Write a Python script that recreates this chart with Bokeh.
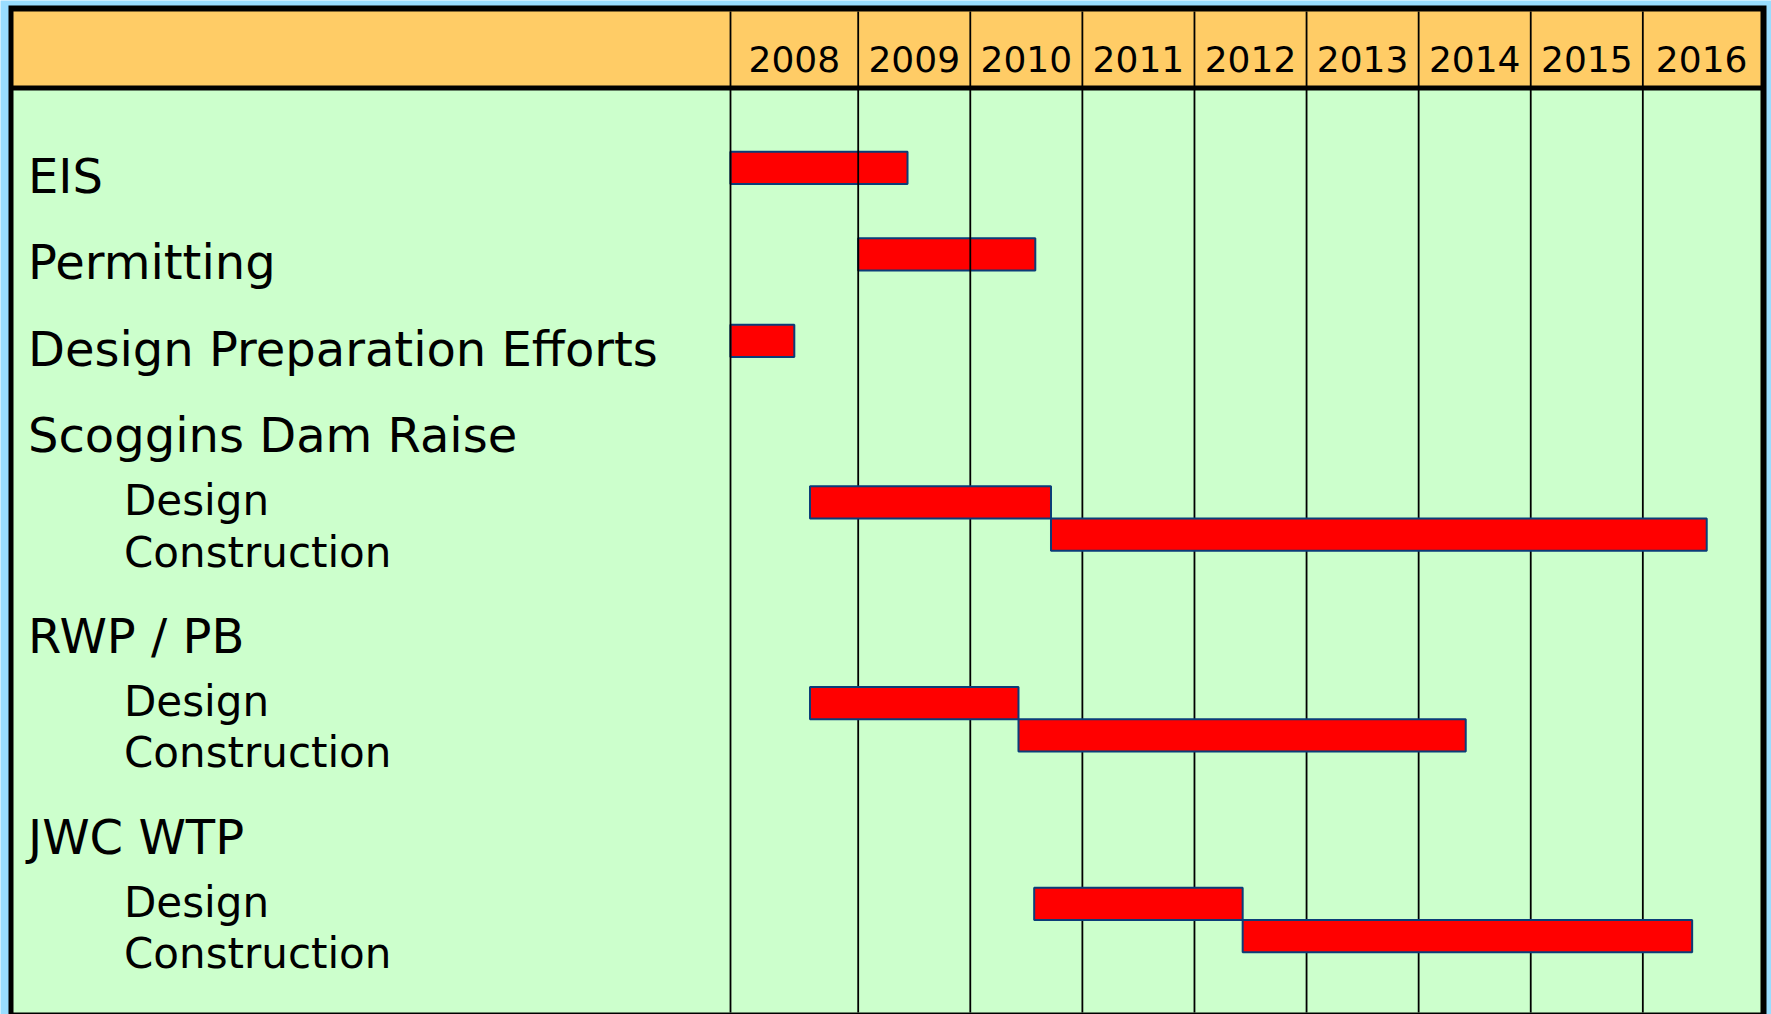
from bokeh.plotting import figure
from bokeh.models import Range1d, ColumnDataSource
from bokeh.core.properties import value
from bokeh.embed import file_html
from bokeh.resources import INLINE

# ---------------- data ----------------
tasks = ["EIS", "Permitting", "Design Preparation Efforts",
         "Scoggins Dam Raise", "Design", "Construction",
         "RWP / PB", "Design", "Construction",
         "JWC WTP", "Design", "Construction"]
levels = [0, 0, 0, 0, 1, 1, 0, 1, 1, 0, 1, 1]
starts = [2007.86, 2009.00, 2007.86, None, 2008.57, 2010.72, None, 2008.57, 2010.43, None, 2010.57, 2012.43]
ends = [2009.44, 2010.58, 2008.43, None, 2010.72, 2016.57, None, 2010.43, 2014.42, None, 2012.43, 2016.44]
years = ["2008", "2009", "2010", "2011", "2012", "2013", "2014", "2015", "2016"]

# ---------------- layout ----------------
W, H = 1771, 1014
PX_PER_YEAR = 112.09
def X(px):
    # converts a pixel layout position to the year scale
    return 2009 + (px - 857.7) / PX_PER_YEAR

FONT = value("DejaVu Sans")
BAR_H = 32.3
TEXT_SHIFT = 0.38  # baseline correction, fraction of font size

# label baselines
baselines = []
y = 193.3
for i, lv in enumerate(levels):
    if i > 0:
        prev = levels[i - 1]
        if lv == 0:
            y += 86.5 if prev == 0 else 86.0
        else:
            y += 63.3 if prev == 0 else 51.5
    baselines.append(y)

# bar centres
centres = []
k = 0
group_base = None
for i, lv in enumerate(levels):
    if lv == 0:
        centres.append(baselines[i] - 26)
        group_base = baselines[i]
        k = 0
    else:
        centres.append(group_base + 49 + k * BAR_H)
        k += 1

p = figure(width=W, height=H,
           x_range=Range1d(X(0), X(W)), y_range=Range1d(H, 0),
           output_backend="svg", toolbar_location=None,
           x_axis_location=None, y_axis_location=None,
           min_border=0, background_fill_color="#99DDFF",
           border_fill_color="#99DDFF", outline_line_color=None)
p.xgrid.visible = False
p.ygrid.visible = False

# frame, header and body panels
p.quad(left=X(8), right=X(1766), top=5, bottom=H, fill_color="black", line_color=None)
p.quad(left=X(13), right=X(1760), top=11, bottom=85, fill_color="#FFCC66", line_color=None)
p.quad(left=X(13), right=X(1760), top=90, bottom=1012, fill_color="#CCFFCC", line_color=None)

def bar_source(level):
    idx = [i for i in range(len(tasks)) if levels[i] == level and starts[i] is not None]
    return ColumnDataSource(dict(
        left=[starts[i] for i in idx], right=[ends[i] for i in idx],
        top=[centres[i] - BAR_H / 2 for i in idx],
        bottom=[centres[i] + BAR_H / 2 for i in idx]))

BAR_STYLE = dict(fill_color="#FF0000", line_color="#0B3D78", line_width=2)
p.quad(left="left", right="right", top="top", bottom="bottom", source=bar_source(0), **BAR_STYLE)

# column dividers
edges = [X(730)] + [int(yr) for yr in years[1:]] + [X(1760)]
p.segment(x0=edges[:-1], y0=11, x1=edges[:-1], y1=1012, line_color="black", line_width=1.8)

p.quad(left="left", right="right", top="top", bottom="bottom", source=bar_source(1), **BAR_STYLE)

# header year labels
centers = [(edges[i] + edges[i + 1]) / 2 for i in range(len(years))]
p.text(x=centers, y=[71.7 - TEXT_SHIFT * 36] * len(years), text=years, text_font=FONT,
       text_font_size=value("36px"), text_align="center", text_baseline="alphabetic",
       text_color="black")

# row labels
main = [i for i in range(len(tasks)) if levels[i] == 0]
sub = [i for i in range(len(tasks)) if levels[i] == 1]
p.text(x=[X(27.5)] * len(main), y=[baselines[i] - TEXT_SHIFT * 48 for i in main],
       text=[tasks[i] for i in main],
       text_font=FONT, text_font_size=value("48px"), text_align="left",
       text_baseline="alphabetic", text_color="black")
p.text(x=[X(123.5)] * len(sub), y=[baselines[i] - TEXT_SHIFT * 42 for i in sub],
       text=[tasks[i] for i in sub],
       text_font=FONT, text_font_size=value("42px"), text_align="left",
       text_baseline="alphabetic", text_color="black")

open("out.html", "w").write(file_html(p, INLINE))
